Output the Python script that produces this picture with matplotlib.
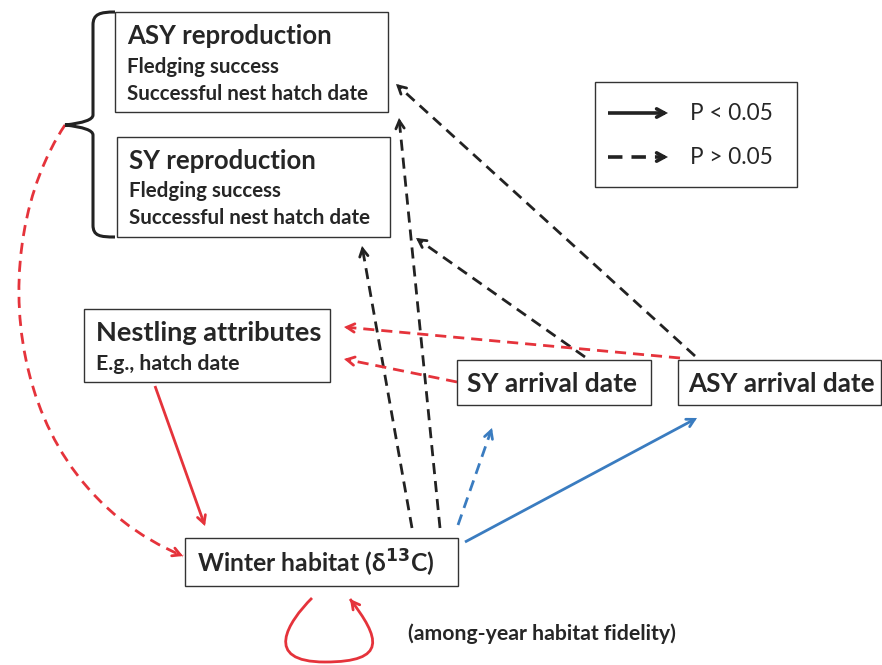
import numpy as np
import matplotlib.pyplot as plt
from matplotlib.patches import Rectangle, PathPatch
from matplotlib.path import Path

RED = "#e5333b"
BLUE = "#3a7cc0"
BLACK = "#222222"

# boxes: name -> (x0, y0, x1, y1) in pixel space (y down)
boxes = {
    "asy_rep": (115, 12, 388, 112),
    "sy_rep": (117, 137, 390, 237),
    "legend": (595, 82, 797, 187),
    "nestling": (84, 309, 330, 382),
    "sy_arr": (457, 360, 651, 405),
    "asy_arr": (678, 360, 881, 405),
    "winter": (185, 538, 458, 586),
}

# texts: (x, y, string, size, weight)
labels = [
    (127, 36, "ASY reproduction", 18.5, "bold"),
    (127, 67, "Fledging success", 14.8, "bold"),
    (127, 94, "Successful nest hatch date", 14.8, "bold"),
    (129, 161, "SY reproduction", 18.5, "bold"),
    (129, 191, "Fledging success", 14.8, "bold"),
    (129, 218, "Successful nest hatch date", 14.8, "bold"),
    (96, 333, "Nestling attributes", 19.5, "bold"),
    (96, 364, "E.g., hatch date", 15.3, "bold"),
    (467, 384, "SY arrival date", 19, "bold"),
    (688, 384, "ASY arrival date", 18.8, "bold"),
    (197, 563, r"Winter habitat (δ$^{\mathbf{13}}$C)", 17.8, "bold"),
    (408, 634, "(among-year habitat fidelity)", 15.3, "bold"),
    (690, 113, "P < 0.05", 16.3, "normal"),
    (690, 157, "P > 0.05", 16.3, "normal"),
]

# straight arrows: (start, end, color, dashed, width)
edges = [
    ((155, 386), (205, 526), RED, False, 2.0),
    ((412, 528), (362, 246), BLACK, True, 2.0),
    ((440, 528), (399, 118), BLACK, True, 2.0),
    ((458, 525), (492, 428), BLUE, True, 2.0),
    ((465, 542), (697, 418), BLUE, False, 2.0),
    ((585, 357), (416, 238), BLACK, True, 2.0),
    ((695, 356), (396, 84), BLACK, True, 2.0),
    ((680, 358), (344, 327), RED, True, 2.0),
    ((457, 382), (344, 359), RED, True, 2.0),
    ((608, 113), (668, 113), BLACK, False, 2.6),
    ((608, 157), (668, 157), BLACK, True, 2.6),
]

# curved arrows: cubic bezier segments
curve_bracket = [(65, 125), (-15, 245), (0, 480), (183, 556)]
curve_loop = [(312, 598), (288, 622), (262, 662), (325, 662),
              (388, 662), (380, 638), (350, 599)]

fig = plt.figure(figsize=(8.82, 6.65), dpi=100)
ax = fig.add_axes([0, 0, 1, 1])
ax.set_xlim(0, 882)
ax.set_ylim(665, 0)
ax.axis("off")

plt.rcParams["font.family"] = ["Lato", "DejaVu Sans"]

for name, (x0, y0, x1, y1) in boxes.items():
    ax.add_patch(Rectangle((x0, y0), x1 - x0, y1 - y0, fill=False,
                           ec="#333333", lw=1.0, zorder=3))

for x, y, s, size, weight in labels:
    ax.text(x, y, s, fontsize=size, fontweight=weight, color="#262626",
            va="center", ha="left", zorder=4)


def head(ax, end, direction, color, lw):
    d = np.array(direction, float)
    d = d / np.linalg.norm(d)
    tail = np.array(end) - d * 6
    ax.annotate("", xy=end, xytext=tail,
                arrowprops=dict(arrowstyle="->,head_length=0.55,head_width=0.3",
                                color=color, lw=lw, shrinkA=0, shrinkB=0,
                                capstyle="round", joinstyle="miter"))


def line(ax, p0, p1, color, dashed, lw):
    p0 = np.array(p0, float)
    p1 = np.array(p1, float)
    d = p1 - p0
    stop = p1 - d / np.linalg.norm(d) * 5
    ls = (0, (4, 2.5)) if dashed else "-"
    ax.plot([p0[0], stop[0]], [p0[1], stop[1]], color=color, lw=lw,
            ls=ls, solid_capstyle="butt", dash_capstyle="butt")
    head(ax, p1, d, color, lw)


for p0, p1, color, dashed, lw in edges:
    line(ax, p0, p1, color, dashed, lw)


def bezier(ax, pts, color, dashed):
    codes = [Path.MOVETO] + [Path.CURVE4] * (len(pts) - 1)
    ls = (0, (4, 2.5)) if dashed else "-"
    ax.add_patch(PathPatch(Path(pts, codes), fill=False, ec=color, lw=2.0,
                           ls=ls))
    head(ax, pts[-1], np.array(pts[-1]) - np.array(pts[-2]), color, 2.0)


bezier(ax, curve_bracket, RED, True)
bezier(ax, curve_loop, RED, False)

# curly bracket around the two reproduction boxes
br = [(115, 12), (100, 12), (93, 14), (93, 25), (93, 115), (93, 122), (65, 125),
      (93, 128), (93, 135), (93, 225), (93, 236), (100, 237), (115, 237)]
br_codes = [Path.MOVETO, Path.CURVE4, Path.CURVE4, Path.CURVE4, Path.LINETO,
            Path.CURVE3, Path.CURVE3, Path.CURVE3, Path.CURVE3, Path.LINETO,
            Path.CURVE4, Path.CURVE4, Path.CURVE4]
ax.add_patch(PathPatch(Path(br, br_codes), fill=False, ec="#222222", lw=2.2))

fig.savefig("out.png", dpi=100)
